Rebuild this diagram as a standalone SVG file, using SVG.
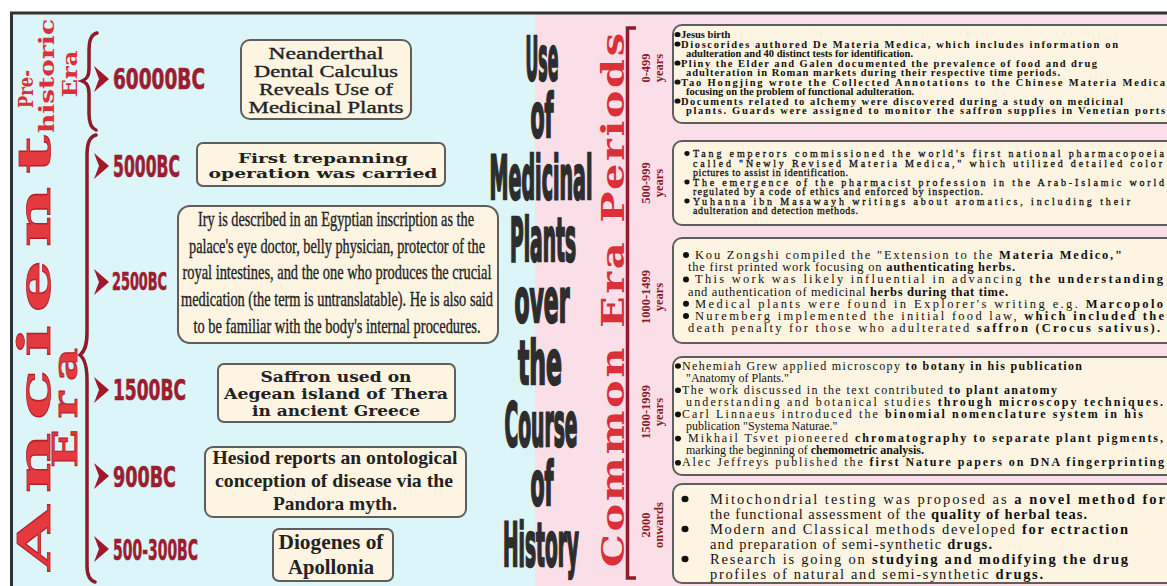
<svg xmlns="http://www.w3.org/2000/svg" width="1167" height="586" viewBox="0 0 1167 586">
<defs>
<style>
.bg1{fill:#dcf5f8}
.bg2{fill:#fbdfe8}
.box{fill:#fdf5e2;stroke:#5e5e5e;stroke-width:2}
.era{font-family:"DejaVu Serif",serif;font-weight:bold;fill:#d9303a}
.era2{font-family:"DejaVu Serif",serif;font-weight:bold;fill:#e4393f;stroke:#b5202b;stroke-width:0.8}
.date{font-family:"DejaVu Sans Condensed","DejaVu Sans",sans-serif;font-stretch:condensed;font-weight:bold;fill:#9c1c30;stroke:#9c1c30;stroke-width:0.6}
.chev{fill:#a3172b}
.brace{fill:none;stroke:#8c1b2b;stroke-width:3.5;stroke-linecap:round}
.title{font-family:"DejaVu Sans Condensed","DejaVu Sans",sans-serif;font-stretch:condensed;font-weight:bold;font-size:50px;fill:#2d2d2d;stroke:#2d2d2d;stroke-width:2;text-anchor:middle}
.per{font-family:"Liberation Serif",serif;font-weight:bold;font-size:12.5px;fill:#8b1a2a;text-anchor:middle}
.t1{font-family:"Liberation Serif",serif;font-weight:bold;fill:#222;text-anchor:middle}
.t1r{font-family:"Liberation Serif",serif;fill:#222;stroke:#222;stroke-width:0.35;text-anchor:middle}
.slab{font-family:"DejaVu Serif",serif;font-weight:bold;fill:#222;text-anchor:middle}
.b1{font-family:"Liberation Serif",serif;font-weight:bold;font-size:10.5px;fill:#111}
.b2{font-family:"Liberation Serif",serif;font-size:10px;fill:#111;stroke:#111;stroke-width:0.3}
.b3{font-family:"Liberation Serif",serif;font-size:12.5px;fill:#111}
.b4{font-family:"Liberation Serif",serif;font-size:12px;fill:#111}
.b5{font-family:"Liberation Serif",serif;font-size:14.5px;fill:#111}
.bd{font-weight:bold}
.dot{fill:#111}
</style>
</defs>

<rect x="0" y="0" width="1167" height="586" fill="#ffffff"/>
<rect class="bg1" x="12" y="13" width="523" height="573"/>
<rect class="bg2" x="535" y="13" width="632" height="573"/>
<line x1="10" y1="13" x2="1167" y2="13" stroke="#333" stroke-width="3"/>
<line x1="11.5" y1="12" x2="11.5" y2="586" stroke="#333" stroke-width="3"/>

<g id="era-labels">
<text class="era" font-size="20" transform="translate(33,89) rotate(-90)" text-anchor="middle" textLength="38" lengthAdjust="spacingAndGlyphs">Pre-</text>
<text class="era" font-size="20" transform="translate(54,76) rotate(-90)" text-anchor="middle" textLength="114" lengthAdjust="spacingAndGlyphs">historic</text>
<text class="era" font-size="20" transform="translate(77,74) rotate(-90)" text-anchor="middle" textLength="47" lengthAdjust="spacingAndGlyphs">Era</text>
<text class="era2" font-size="44" transform="translate(50,353) rotate(-90) scale(1.9,1)" text-anchor="middle" textLength="229" lengthAdjust="spacing">Ancient</text>
<text class="era2" font-size="34" transform="translate(77,408) rotate(-90) scale(1.5,1)" text-anchor="middle" textLength="80" lengthAdjust="spacing">Era</text>
<text class="era" font-size="32" transform="translate(624,300) rotate(-90) scale(1.3,1)" text-anchor="middle" textLength="411" lengthAdjust="spacing">Common Era Periods</text>
</g>

<g id="connectors">
<path class="brace" d="M97,33 C90,35 89,42 89,52 L89,68 C89,76 87,79 82,81 C87,83 89,86 89,94 L89,114 C89,123 91,128 96,130"/>
<path class="brace" d="M96,135 C89,137 87,144 87,156 L87,332 C87,345 85,351 80,355 C85,359 87,366 87,380 L87,566 C87,575 89,580 95,582"/>
<path d="M636,28 L627.5,28 L627.5,578 L636,578" fill="none" stroke="#8c1b2b" stroke-width="3.5"/>
<path class="chev" d="M94,66 L109,79 L94,92 L99,79 Z"/>
<path class="chev" d="M94,153 L109,166 L94,179 L99,166 Z"/>
<path class="chev" d="M94,269 L109,282 L94,295 L99,282 Z"/>
<path class="chev" d="M94,377 L109,390 L94,403 L99,390 Z"/>
<path class="chev" d="M94,463 L109,476 L94,489 L99,476 Z"/>
<path class="chev" d="M94,536 L109,549 L94,562 L99,549 Z"/>
</g>

<g id="dates">
<text class="date" x="113" y="89" font-size="29" textLength="92" lengthAdjust="spacingAndGlyphs">60000BC</text>
<text class="date" x="113" y="177" font-size="30" textLength="67" lengthAdjust="spacingAndGlyphs">5000BC</text>
<text class="date" x="112" y="290" font-size="24" textLength="55" lengthAdjust="spacingAndGlyphs">2500BC</text>
<text class="date" x="113" y="400" font-size="29" textLength="73" lengthAdjust="spacingAndGlyphs">1500BC</text>
<text class="date" x="113" y="487" font-size="29" textLength="63" lengthAdjust="spacingAndGlyphs">900BC</text>
<text class="date" x="113" y="560" font-size="29" textLength="85" lengthAdjust="spacingAndGlyphs">500-300BC</text>
</g>

<g id="title">
<text class="title" transform="translate(542,80) scale(1,1.2)" textLength="33" lengthAdjust="spacingAndGlyphs">Use</text>
<text class="title" transform="translate(542,137) scale(1,1.2)" textLength="23" lengthAdjust="spacingAndGlyphs">of</text>
<text class="title" transform="translate(541,199) scale(1,1.2)" textLength="103" lengthAdjust="spacingAndGlyphs">Medicinal</text>
<text class="title" transform="translate(543,261) scale(1,1.2)" textLength="66" lengthAdjust="spacingAndGlyphs">Plants</text>
<text class="title" transform="translate(542,322) scale(1,1.2)" textLength="55" lengthAdjust="spacingAndGlyphs">over</text>
<text class="title" transform="translate(540,384) scale(1,1.2)" textLength="44" lengthAdjust="spacingAndGlyphs">the</text>
<text class="title" transform="translate(541,446) scale(1,1.2)" textLength="73" lengthAdjust="spacingAndGlyphs">Course</text>
<text class="title" transform="translate(542,505) scale(1,1.2)" textLength="23" lengthAdjust="spacingAndGlyphs">of</text>
<text class="title" transform="translate(541,566) scale(1,1.2)" textLength="76" lengthAdjust="spacingAndGlyphs">History</text>
</g>

<g id="node-neanderthal">
<rect class="box" x="241" y="40" width="170" height="79" rx="9"/>
<text class="t1r" x="326" y="59" font-size="17.5" textLength="115" lengthAdjust="spacingAndGlyphs">Neanderthal</text>
<text class="t1r" x="326" y="77" font-size="17.5" textLength="144" lengthAdjust="spacingAndGlyphs">Dental Calculus</text>
<text class="t1r" x="326" y="95" font-size="17.5" textLength="134" lengthAdjust="spacingAndGlyphs">Reveals Use of</text>
<text class="t1r" x="326" y="113" font-size="17.5" textLength="155" lengthAdjust="spacingAndGlyphs">Medicinal Plants</text>
</g>

<g id="node-trepanning">
<rect class="box" x="197" y="143" width="248" height="43" rx="6"/>
<text class="slab" x="323" y="163" font-size="13" textLength="170" lengthAdjust="spacingAndGlyphs">First trepanning</text>
<text class="slab" x="323" y="178" font-size="13" textLength="229" lengthAdjust="spacingAndGlyphs">operation was carried</text>
</g>

<g id="node-iry">
<rect class="box" x="178" y="206" width="320" height="137" rx="12"/>
<text class="t1r" x="336" y="226" font-size="21" textLength="276" lengthAdjust="spacingAndGlyphs">Iry is described in an Egyptian inscription as the</text>
<text class="t1r" x="337" y="253" font-size="21" textLength="296" lengthAdjust="spacingAndGlyphs">palace's eye doctor, belly physician, protector of the</text>
<text class="t1r" x="337" y="279" font-size="21" textLength="309" lengthAdjust="spacingAndGlyphs">royal intestines, and the one who produces the crucial</text>
<text class="t1r" x="337" y="306" font-size="21" textLength="312" lengthAdjust="spacingAndGlyphs">medication (the term is untranslatable). He is also said</text>
<text class="t1r" x="337" y="333" font-size="21" textLength="287" lengthAdjust="spacingAndGlyphs">to be familiar with the body's internal procedures.</text>
</g>

<g id="node-saffron">
<rect class="box" x="218" y="364" width="237" height="58" rx="6"/>
<text class="slab" x="336" y="382" font-size="14" textLength="151" lengthAdjust="spacingAndGlyphs">Saffron used on</text>
<text class="slab" x="336" y="399" font-size="14" textLength="224" lengthAdjust="spacingAndGlyphs">Aegean island of Thera</text>
<text class="slab" x="336" y="416" font-size="14" textLength="168" lengthAdjust="spacingAndGlyphs">in ancient Greece</text>
</g>

<g id="node-hesiod">
<rect class="box" x="205" y="447" width="261" height="70" rx="8"/>
<text class="t1" x="335" y="464" font-size="19" textLength="245" lengthAdjust="spacingAndGlyphs">Hesiod reports an ontological</text>
<text class="t1" x="334" y="487" font-size="19" textLength="238" lengthAdjust="spacingAndGlyphs">conception of disease via the</text>
<text class="t1" x="335" y="510" font-size="19" textLength="124" lengthAdjust="spacingAndGlyphs">Pandora myth.</text>
</g>

<g id="node-diogenes">
<rect class="box" x="273" y="529" width="120" height="52" rx="6"/>
<text class="t1" x="331" y="549" font-size="21" textLength="105" lengthAdjust="spacingAndGlyphs">Diogenes of</text>
<text class="t1" x="331" y="574" font-size="21" textLength="86" lengthAdjust="spacingAndGlyphs">Apollonia</text>
</g>

<g id="periods">
<text class="per" transform="translate(650,68) rotate(-90)">0-499</text>
<text class="per" transform="translate(662.5,68) rotate(-90)">years</text>
<text class="per" transform="translate(650,183) rotate(-90)">500-999</text>
<text class="per" transform="translate(662.5,183) rotate(-90)">years</text>
<text class="per" transform="translate(650,297) rotate(-90)">1000-1499</text>
<text class="per" transform="translate(662.5,297) rotate(-90)">years</text>
<text class="per" transform="translate(650,412) rotate(-90)">1500-1999</text>
<text class="per" transform="translate(662.5,412) rotate(-90)">years</text>
<text class="per" transform="translate(650,525) rotate(-90)">2000</text>
<text class="per" transform="translate(662.5,525) rotate(-90)">onwards</text>
</g>

<g id="node-0-499">
<rect class="box" x="673" y="25" width="520" height="98" rx="9"/>
<ellipse class="dot" cx="677.5" cy="34.5" rx="3" ry="2.6"/>
<ellipse class="dot" cx="677.5" cy="44" rx="3" ry="2.6"/>
<ellipse class="dot" cx="677.5" cy="63" rx="3" ry="2.6"/>
<ellipse class="dot" cx="677.5" cy="82" rx="3" ry="2.6"/>
<ellipse class="dot" cx="677.5" cy="101" rx="3" ry="2.6"/>
<text class="b1" x="681" y="38">Jesus birth</text>
<text class="b1" x="681" y="47.5" textLength="437" lengthAdjust="spacing">Dioscorides authored De Materia Medica, which includes information on</text>
<text class="b1" x="686" y="57">adulteration and 40 distinct tests for identification.</text>
<text class="b1" x="681" y="66.5" textLength="416" lengthAdjust="spacing">Pliny the Elder and Galen documented the prevalence of food and drug</text>
<text class="b1" x="686" y="76" textLength="374" lengthAdjust="spacing">adulteration in Roman markets during their respective time periods.</text>
<text class="b1" x="681" y="85.5" textLength="484" lengthAdjust="spacing">Tao Hongjing wrote the Collected Annotations to the Chinese Materia Medica</text>
<text class="b1" x="686" y="95">focusing on the problem of functional adulteration.</text>
<text class="b1" x="681" y="104.5" textLength="442" lengthAdjust="spacing">Documents related to alchemy were discovered during a study on medicinal</text>
<text class="b1" x="686" y="114" textLength="479" lengthAdjust="spacing">plants. Guards were assigned to monitor the saffron supplies in Venetian ports</text>
</g>

<g id="node-500-999">
<rect class="box" x="673" y="141" width="520" height="84" rx="9"/>
<ellipse class="dot" cx="687" cy="153.5" rx="2.6" ry="2.4"/>
<ellipse class="dot" cx="687" cy="182" rx="2.6" ry="2.4"/>
<ellipse class="dot" cx="687" cy="201" rx="2.6" ry="2.4"/>
<text class="b2" x="693" y="157" textLength="471" lengthAdjust="spacing">Tang emperors commissioned the world's first national pharmacopoeia</text>
<text class="b2" x="693" y="166.5" textLength="469" lengthAdjust="spacing">called "Newly Revised Materia Medica," which utilized detailed color</text>
<text class="b2" x="693" y="176" textLength="155" lengthAdjust="spacing">pictures to assist in identification.</text>
<text class="b2" x="693" y="185.5" textLength="471" lengthAdjust="spacing">The emergence of the pharmacist profession in the Arab-Islamic world</text>
<text class="b2" x="693" y="195" textLength="290" lengthAdjust="spacing">regulated by a code of ethics and enforced by inspection.</text>
<text class="b2" x="693" y="204.5" textLength="437" lengthAdjust="spacing">Yuhanna ibn Masawayh writings about aromatics, including their</text>
<text class="b2" x="693" y="214" textLength="165" lengthAdjust="spacing">adulteration and detection methods.</text>
</g>

<g id="node-1000-1499">
<rect class="box" x="673" y="238" width="520" height="105" rx="9"/>
<ellipse class="dot" cx="686" cy="255" rx="3" ry="3"/>
<ellipse class="dot" cx="686" cy="279.4" rx="3" ry="3"/>
<ellipse class="dot" cx="686" cy="303.8" rx="3" ry="3"/>
<ellipse class="dot" cx="686" cy="316" rx="3" ry="3"/>
<text class="b3" x="695" y="259" textLength="427" lengthAdjust="spacing">Kou Zongshi compiled the "Extension to the <tspan class="bd">Materia Medico,"</tspan></text>
<text class="b3" x="688" y="271.2" textLength="327" lengthAdjust="spacing">the first printed work focusing on <tspan class="bd">authenticating herbs.</tspan></text>
<text class="b3" x="695" y="283.4" textLength="468" lengthAdjust="spacing">This work was likely influential in advancing <tspan class="bd">the understanding</tspan></text>
<text class="b3" x="688" y="295.6" textLength="320" lengthAdjust="spacing">and authentication of medicinal <tspan class="bd">herbs during that time.</tspan></text>
<text class="b3" x="695" y="307.8" textLength="468" lengthAdjust="spacing">Medical plants were found in Explorer's writing e.g. <tspan class="bd">Marcopolo</tspan></text>
<text class="b3" x="695" y="320" textLength="469" lengthAdjust="spacing">Nuremberg implemented the initial food law, <tspan class="bd">which included the</tspan></text>
<text class="b3" x="688" y="332.2" textLength="472" lengthAdjust="spacing">death penalty for those who adulterated <tspan class="bd">saffron (Crocus sativus).</tspan></text>
</g>

<g id="node-1500-1999">
<rect class="box" x="673" y="357" width="520" height="118" rx="9"/>
<ellipse class="dot" cx="678" cy="366" rx="3" ry="2.8"/>
<ellipse class="dot" cx="678" cy="390.2" rx="3" ry="2.8"/>
<ellipse class="dot" cx="678" cy="414.4" rx="3" ry="2.8"/>
<ellipse class="dot" cx="678" cy="438.6" rx="3" ry="2.8"/>
<ellipse class="dot" cx="678" cy="462.8" rx="3" ry="2.8"/>
<text class="b4" x="682" y="369.5" textLength="400" lengthAdjust="spacing">Nehemiah Grew applied microscopy <tspan class="bd">to botany in his publication</tspan></text>
<text class="b4" x="686" y="381.6">"Anatomy of Plants."</text>
<text class="b4" x="682" y="393.7" textLength="375" lengthAdjust="spacing">The work discussed in the text contributed <tspan class="bd">to plant anatomy</tspan></text>
<text class="b4" x="686" y="405.8" textLength="477" lengthAdjust="spacing">understanding and botanical studies <tspan class="bd">through microscopy techniques.</tspan></text>
<text class="b4" x="682" y="417.9" textLength="461" lengthAdjust="spacing">Carl Linnaeus introduced the <tspan class="bd">binomial nomenclature system in his</tspan></text>
<text class="b4" x="686" y="430">publication "Systema Naturae."</text>
<text class="b4" x="688" y="442.1" textLength="475" lengthAdjust="spacing">Mikhail Tsvet pioneered <tspan class="bd">chromatography to separate plant pigments,</tspan></text>
<text class="b4" x="686" y="454.2">marking the beginning of <tspan class="bd">chemometric analysis.</tspan></text>
<text class="b4" x="682" y="466.3" textLength="482" lengthAdjust="spacing">Alec Jeffreys published the <tspan class="bd">first Nature papers on DNA fingerprinting</tspan></text>
</g>

<g id="node-2000">
<rect class="box" x="673" y="484" width="520" height="99" rx="9"/>
<ellipse class="dot" cx="685" cy="499" rx="3.5" ry="3.3"/>
<ellipse class="dot" cx="685" cy="529" rx="3.5" ry="3.3"/>
<ellipse class="dot" cx="685" cy="559" rx="3.5" ry="3.3"/>
<text class="b5" x="710" y="504" textLength="455" lengthAdjust="spacing">Mitochondrial testing was proposed as <tspan class="bd">a novel method for</tspan></text>
<text class="b5" x="710" y="519" textLength="377" lengthAdjust="spacing">the functional assessment of the <tspan class="bd">quality of herbal teas.</tspan></text>
<text class="b5" x="710" y="534" textLength="418" lengthAdjust="spacing">Modern and Classical methods developed <tspan class="bd">for ectraction</tspan></text>
<text class="b5" x="710" y="549" textLength="282" lengthAdjust="spacing">and preparation of semi-synthetic <tspan class="bd">drugs.</tspan></text>
<text class="b5" x="710" y="564" textLength="418" lengthAdjust="spacing">Research is going on <tspan class="bd">studying and modifying the drug</tspan></text>
<text class="b5" x="710" y="579" textLength="333" lengthAdjust="spacing">profiles of natural and semi-synthetic <tspan class="bd">drugs.</tspan></text>
</g>
</svg>
